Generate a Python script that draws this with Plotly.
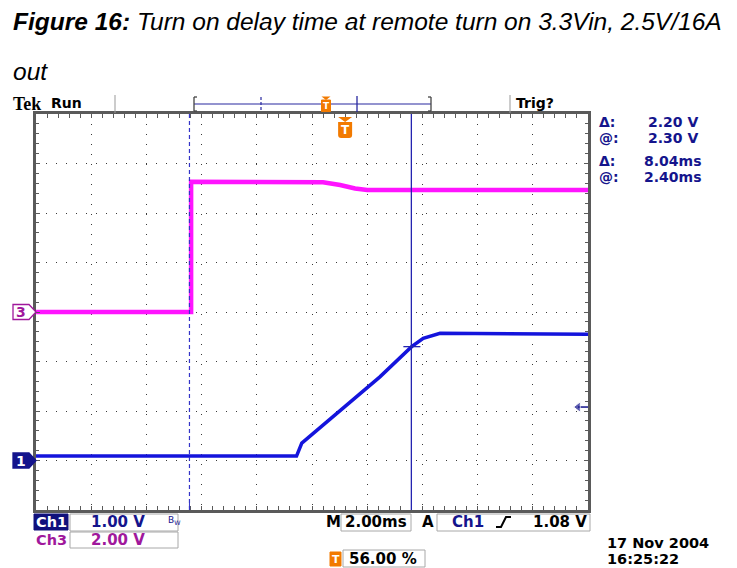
import plotly.graph_objects as go

W, H = 737, 568

# ---------------- data ----------------
# time in ms relative to the trigger point, screen spans 10 div x 2 ms
T_RANGE = [-11.2, 8.8]
# Ch1 (output voltage, V), 1 V/div, ground 1 div above bottom
ch1_t = [-11.2, -1.76, -1.57, -1.15, 0.06, 1.26, 2.41, 2.83, 3.44, 5.5, 8.8]
ch1_v = [0.09, 0.09, 0.35, 0.55, 1.12, 1.69, 2.30, 2.47, 2.57, 2.56, 2.55]
# Ch3 (remote on/off, V), 2 V/div, ground at screen centre
ch3_t = [-11.2, -5.58, -5.58, -3.0, -0.80, -0.18, 0.36, 0.80, 3.0, 8.8]
ch3_v = [0.0, 0.0, 5.26, 5.25, 5.24, 5.13, 4.99, 4.93, 4.92, 4.93]

CURSOR_T = [-5.64, 2.40]      # ms
CURSOR_V = 2.30               # V (ch1)
DELTA_V = 2.20
DELTA_T = 8.04
TRIG_LEVEL = 1.08
TRIG_POS = 56.00
CH1_SCALE = "1.00 V"
CH3_SCALE = "2.00 V"
TIMEBASE = "2.00ms"
DATE_TXT = ["17 Nov 2004", "16:25:22"]
TITLE = "<b>Figure 16:</b> Turn on delay time at remote turn on 3.3Vin, 2.5V/16A"
TITLE2 = "out"

# ---------------- layout geometry ----------------
SX0, SX1, SY0, SY1 = 36, 588, 114, 510   # screen pixel box


def px(x):
    return x / W


def py(y):
    return 1 - y / H


BLUE = "#1414dc"
DBLUE = "#14148c"
MAG = "#ff14ff"
PURP = "#a0189c"
ORANGE = "#f27a00"
FONT = "DejaVu Sans"

fig = go.Figure()
fig.add_trace(go.Scatter(x=ch3_t, y=ch3_v, yaxis="y2", mode="lines",
                         line=dict(color=MAG, width=4.5), hoverinfo="skip"))
fig.add_trace(go.Scatter(x=ch1_t, y=ch1_v, mode="lines",
                         line=dict(color=BLUE, width=3.5), hoverinfo="skip"))
# trigger level arrow (right edge)
fig.add_trace(go.Scatter(x=[8.44, T_RANGE[1]], y=[TRIG_LEVEL, TRIG_LEVEL], mode="lines+markers",
                         line=dict(color=DBLUE, width=1.5),
                         marker=dict(symbol=["triangle-left", "circle"], size=[9, 0], color=DBLUE),
                         cliponaxis=False, hoverinfo="skip"))

axcommon = dict(showticklabels=False, showline=True, linecolor="#5a5a5a", linewidth=3,
                mirror="allticks", ticks="inside", ticklen=4, tickcolor="#5a5a5a",
                showgrid=True, gridcolor="#3a3a3a", gridwidth=1, griddash="1px,9px",
                zeroline=False, fixedrange=True)

shapes = []
annotations = []

# cursors
shapes.append(dict(type="line", xref="x", yref="paper", x0=CURSOR_T[0], x1=CURSOR_T[0],
                   y0=py(SY1), y1=py(SY0), line=dict(color="#3434c8", width=1.2, dash="4px,3px")))
shapes.append(dict(type="line", xref="x", yref="paper", x0=CURSOR_T[1], x1=CURSOR_T[1],
                   y0=py(SY1), y1=py(SY0), line=dict(color="#2424b0", width=1.3)))
# horizontal crosshair tick at cursor 2
shapes.append(dict(type="line", xref="x", yref="y", xsizemode="pixel", xanchor=CURSOR_T[1],
                   x0=-8, x1=9, y0=CURSOR_V, y1=CURSOR_V, line=dict(color="#2424b0", width=1.3)))
# small cursor tick on bottom border
shapes.append(dict(type="line", xref="x", yref="paper", x0=CURSOR_T[0], x1=CURSOR_T[0],
                   y0=py(SY1 - 2), y1=py(SY1 - 7), line=dict(color="#3434c8", width=1)))

# trigger "T" marker inside screen at t = 0
shapes.append(dict(type="path", xref="x", xsizemode="pixel", xanchor=0, yref="paper",
                   ysizemode="pixel", yanchor=py(SY0),
                   path="M -7,-3 L 7,-3 L 0,-8 Z", fillcolor=ORANGE, line=dict(width=0)))
shapes.append(dict(type="path", xref="x", xsizemode="pixel", xanchor=0, yref="paper",
                   ysizemode="pixel", yanchor=py(SY0),
                   path="M -7,-8 L 7,-8 L 7,-21 Q 7,-24 4,-24 L -4,-24 Q -7,-24 -7,-21 Z",
                   fillcolor=ORANGE, line=dict(width=0)))
annotations.append(dict(x=0, xref="x", y=py(SY0 + 16), yref="paper", text="<b>T</b>",
                        showarrow=False, font=dict(family=FONT, size=12, color="white"),
                        xanchor="center", yanchor="middle"))


# ground markers
def ground_marker(yref, label, fill, edge, txtcol):
    shapes.append(dict(type="path", xref="paper", xsizemode="pixel", xanchor=0, yref=yref,
                       ysizemode="pixel", yanchor=0,
                       path="M 13,7.5 L 29,7.5 L 36,0 L 29,-7.5 L 13,-7.5 Z",
                       fillcolor=fill, line=dict(color=edge, width=1.3)))
    annotations.append(dict(x=px(21), xref="paper", y=0, yref=yref, text="<b>%s</b>" % label,
                            showarrow=False, font=dict(family=FONT, size=14, color=txtcol),
                            xanchor="center", yanchor="middle", yshift=0))


ground_marker("y2", "3", "white", PURP, PURP)
ground_marker("y", "1", DBLUE, DBLUE, "white")


def text(x, y, s, size=15, color="black", anchor="left", family=FONT, bold=True):
    annotations.append(dict(x=px(x), y=py(y), xref="paper", yref="paper",
                            text=("<b>%s</b>" % s) if bold else s,
                            showarrow=False, xanchor=anchor, yanchor="middle",
                            font=dict(family=family, size=size, color=color)))


def box(x0, y0, x1, y1, fill=None, edge="#a8a8a8", lw=1):
    shapes.append(dict(type="rect", xref="paper", yref="paper", x0=px(x0), x1=px(x1),
                       y0=py(y1), y1=py(y0), fillcolor=fill or "rgba(0,0,0,0)",
                       line=dict(color=edge, width=lw)))


def pline(x0, y0, x1, y1, color="#888", width=1, dash=None):
    ln = dict(color=color, width=width)
    if dash:
        ln["dash"] = dash
    shapes.append(dict(type="line", xref="paper", yref="paper", x0=px(x0), x1=px(x1),
                       y0=py(y0), y1=py(y1), line=ln))


# title
text(11, 22, "<i>" + TITLE + "</i>", size=24.5, family="Liberation Sans", bold=False)
text(11, 71, "<i>" + TITLE2 + "</i>", size=24.5, family="Liberation Sans", bold=False)

# status bar
text(11, 104, "Tek", size=18, family="Liberation Serif")
text(49, 103, "Run", size=14)
pline(115, 95, 115, 113, "#999", 1)
pline(510, 95, 510, 113, "#999", 1)
text(514, 103, "Trig?", size=14)
# record bar
pline(194, 104, 431, 104, "#2828a0", 1.2)
pline(194, 97, 194, 111, "#444", 1.3)
pline(194, 97, 197, 97, "#444", 1.3)
pline(194, 111, 197, 111, "#444", 1.3)
pline(431, 97, 431, 111, "#444", 1.3)
pline(428, 97, 431, 97, "#444", 1.3)
pline(428, 111, 431, 111, "#444", 1.3)
pline(261, 97, 261, 111, "#2828a0", 1.2, "3px,2px")
pline(357, 96, 357, 112, "#2828a0", 1.3)
shapes.append(dict(type="path", xref="paper", yref="paper",
                   path="M %f,%f L %f,%f L %f,%f Z" % (px(321.5), py(96.5), px(330.5), py(96.5), px(326), py(100)),
                   fillcolor=ORANGE, line=dict(width=0)))
box(321.5, 100, 330.5, 111.5, fill=ORANGE, edge=ORANGE)
text(326, 106, "T", size=9, color="white", anchor="center")

# right readouts
RS = 14
text(597, 122, "Δ:", size=RS, color=DBLUE)
text(597, 138, "@:", size=RS, color=DBLUE)
text(700, 122, "%.2f V" % DELTA_V, size=RS, color=DBLUE, anchor="right")
text(700, 138, "%.2f V" % CURSOR_V, size=RS, color=DBLUE, anchor="right")
text(597, 161, "Δ:", size=RS, color=DBLUE)
text(597, 177, "@:", size=RS, color=DBLUE)
text(703, 161, "%.2fms" % DELTA_T, size=RS, color=DBLUE, anchor="right")
text(703, 177, "%.2fms" % CURSOR_T[1], size=RS, color=DBLUE, anchor="right")

# bottom readouts
box(34, 514, 68, 530, fill="#10107c", edge="#10107c")
text(51, 522, "Ch1", size=14.5, color="white", anchor="center")
box(70, 514, 178, 531)
text(89, 522, CH1_SCALE, color=DBLUE)
text(166, 520, "B<sub>W</sub>", size=9, color=DBLUE, bold=False)
text(51, 540, "Ch3", size=14.5, color=PURP, anchor="center")
box(70, 532, 178, 548)
text(89, 540, CH3_SCALE, color=PURP)
text(333, 522, "M", anchor="center")
box(341, 514, 411, 531)
text(343, 522, TIMEBASE)
text(428, 522, "A", anchor="center")
box(437, 514, 590, 531)
text(450, 522, "Ch1", color=DBLUE)
shapes.append(dict(type="path", xref="paper", yref="paper",
                   path="M %f,%f L %f,%f L %f,%f L %f,%f" % (px(496), py(527), px(501), py(527),
                                                             px(506), py(517), px(511), py(517)),
                   line=dict(color="black", width=2)))
text(589, 522, "%.2f V" % TRIG_LEVEL, anchor="right")
box(330, 552, 341, 566, fill=ORANGE, edge=ORANGE)
text(335.5, 559, "T", size=11, color="white", anchor="center")
box(343, 550, 425, 567)
text(347, 559, "%.2f %%" % TRIG_POS)
text(605, 543, DATE_TXT[0], size=14.5)
text(605, 559, DATE_TXT[1], size=14.5)

fig.update_layout(
    width=W, height=H, margin=dict(l=0, r=0, t=0, b=0),
    paper_bgcolor="white", plot_bgcolor="white", showlegend=False,
    xaxis=dict(range=T_RANGE, domain=[px(SX0), px(SX1)], tick0=T_RANGE[0], dtick=2,
               minor=dict(ticks="inside", dtick=0.4, ticklen=3, tickcolor="#5a5a5a", showgrid=False),
               **axcommon),
    yaxis=dict(range=[-1, 7], domain=[py(SY1), py(SY0)], tick0=-1, dtick=1,
               minor=dict(ticks="inside", dtick=0.2, ticklen=3, tickcolor="#5a5a5a", showgrid=False),
               **axcommon),
    yaxis2=dict(range=[-8, 8], overlaying="y", visible=False, fixedrange=True),
    shapes=shapes, annotations=annotations,
)

fig.write_html("out.html", config={"displayModeBar": False},
               post_script="document.body.style.margin='0';document.body.style.overflow='hidden';")
